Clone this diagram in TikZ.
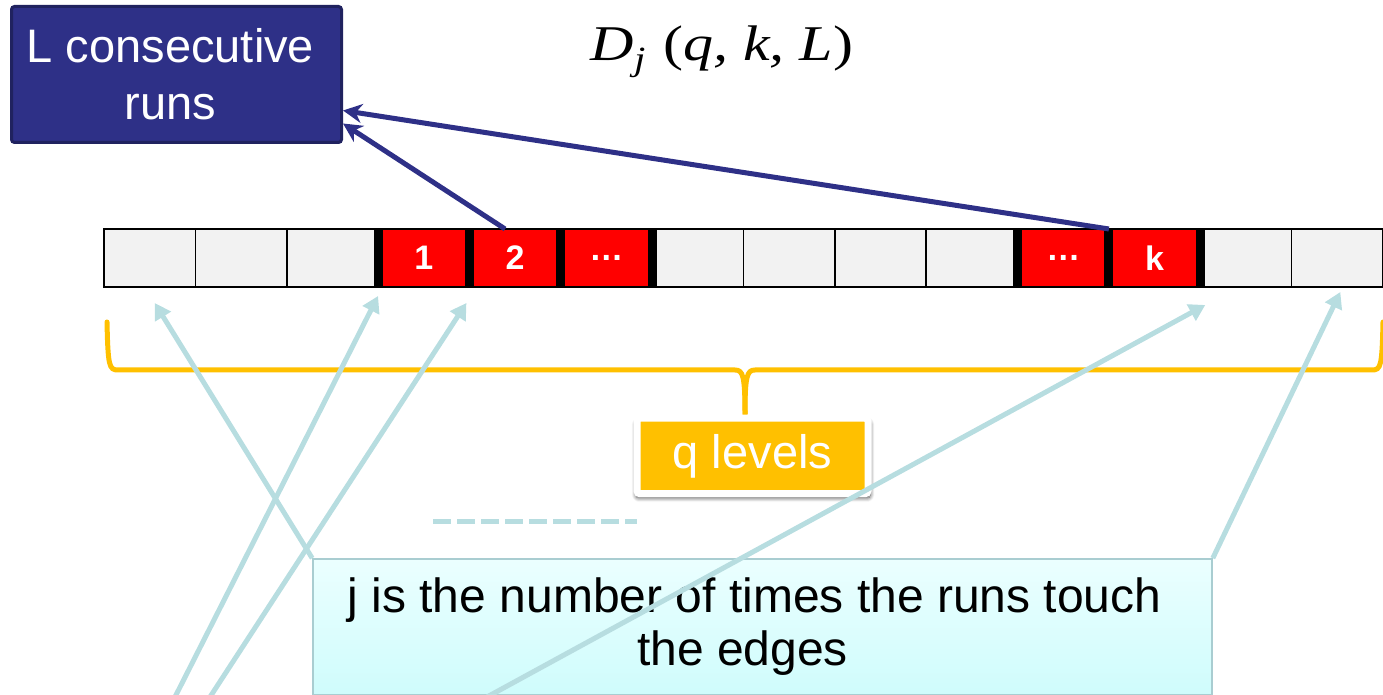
\documentclass[tikz,border=0pt]{standalone}
\usepackage{fontspec}
\setmainfont{Liberation Sans}
\newfontfamily\serifit{Liberation Serif}
\usepackage{graphicx}
\usepackage{xcolor}
\usepackage{tikz}
\usetikzlibrary{arrows.meta,shadows.blur}

\definecolor{runnavy}{HTML}{2E3087}
\definecolor{runborder}{HTML}{20225F}
\definecolor{cellgray}{HTML}{F2F2F2}
\definecolor{qorange}{HTML}{FFC000}
\definecolor{paleblue}{HTML}{B7DDE0}
\definecolor{notetop}{HTML}{EBFFFF}
\definecolor{notebottom}{HTML}{CFFCFC}
\definecolor{noteborder}{HTML}{A9CDD1}

\begin{document}
\begin{tikzpicture}[x=0.5pt,y=-0.5pt,
  cell/.style={draw=black,line width=0.8pt,fill=cellgray,minimum width=45.68pt,
               minimum height=29pt,inner sep=0pt,outer sep=0pt},
  run/.style={fill=red,text=white,font=\fontsize{17}{17}\selectfont\bfseries},
  sep/.style={line width=4.5pt},
  dark/.style={-{Stealth[length=9.5pt,width=9.5pt]},line width=2.5pt,runnavy},
  pale/.style={-{Triangle[length=8pt,width=9pt]},line width=2.5pt,paleblue},
  brace/.style={line width=2.5pt,qorange,line cap=round}]

  \useasboundingbox (0,0) rectangle (1383,695);

  % brace under the row, pointer down to the label
  \draw[brace] (107,322) .. controls (108,366) and (109,370) .. (118,370) -- (735,370)
    .. controls (743,370) and (745,376) .. (745,414);
  \draw[brace] (745,414) .. controls (745,376) and (747,370) .. (755,370) -- (1372,370)
    .. controls (1381,370) and (1382,366) .. (1383,322);

  % dashed stub
  \coordinate (d1) at (433,521);
  \coordinate (d2) at (637,521);
  \draw[paleblue,line width=2.5pt,dash pattern=on 9pt off 3pt] (d1) -- (d2);

  % the row of cells, runs in red
  \foreach \i in {1,2,3,7,8,9,10,13,14}
    \node[cell] (c\i) at ({104+(\i-0.5)*91.357},258) {};
  \foreach \i/\lbl in {4/1, 5/2, 6/…, 11/…, 12/k}
    \node[cell,run] (c\i) at ({104+(\i-0.5)*91.357},258) {\lbl};
  \foreach \i in {4,5,6,7,11,12,13}
    \draw[sep] (c\i.north west) -- (c\i.south west);

  % labels
  \node[fill=runnavy,draw=runborder,line width=1.5pt,rounded corners=1.5pt,
        minimum width=165pt,minimum height=68pt,text=white,align=center,
        font=\fontsize{23.5}{28.5}\selectfont] (runs) at (176.5,74.5)
        {L consecutive\hspace*{6pt}\\runs\hspace*{6pt}};
  \node[font=\serifit\itshape\fontsize{25}{25}\selectfont] (dform) at (722,52)
        {\scalebox{1.2}[1]{D\raisebox{-0.45ex}{\fontsize{17}{17}\selectfont j}\hspace{0.3em}{\upshape(}q,\hspace{0.25em}k,\hspace{0.25em}L{\upshape)}}};
  \node[fill=qorange,draw=white,line width=3.5pt,rounded corners=1.5pt,
        minimum width=115.5pt,minimum height=37.75pt,text=white,
        font=\fontsize{23.5}{23.5}\selectfont,
        blur shadow={shadow xshift=0.3pt,shadow yshift=-1.8pt,shadow scale=1.015,
                     shadow blur steps=8,shadow blur radius=2pt,shadow opacity=70}]
        (qlev) at (752.5,456) {q levels};
  \node[draw=noteborder,line width=0.8pt,top color=notetop,bottom color=notebottom,
        minimum width=449.5pt,minimum height=68pt,align=center,
        font=\fontsize{24}{26.5}\selectfont] (note) at (762.5,627)
        {j is the number of times the runs touch\hspace*{8pt}\\the edges\hspace*{20pt}};

  % runs point to the label box
  \draw[dark] (c12.north west) -- ([yshift=-18pt]runs.east);
  \draw[dark] ([xshift=-5pt]c5.north) -- ([yshift=-24.5pt]runs.east);

  % edge arrows
  \coordinate (b1) at (175,697);
  \coordinate (b2) at (210,697);
  \coordinate (b3) at (487,697);
  \draw[pale] (note.north west) -- ([xshift=2.5pt,yshift=-8pt]c1.south);
  \draw[pale] (b1) -- ([yshift=-4.5pt]c4.south west);
  \draw[pale] (b2) -- ([xshift=-1.5pt,yshift=-8pt]c5.south west);
  \draw[pale] (b3) -- ([xshift=2.5pt,yshift=-9pt]c13.south west);
  \draw[pale] (note.north east) -- ([xshift=1.5pt,yshift=-2.5pt]c14.south);

\end{tikzpicture}
\end{document}
